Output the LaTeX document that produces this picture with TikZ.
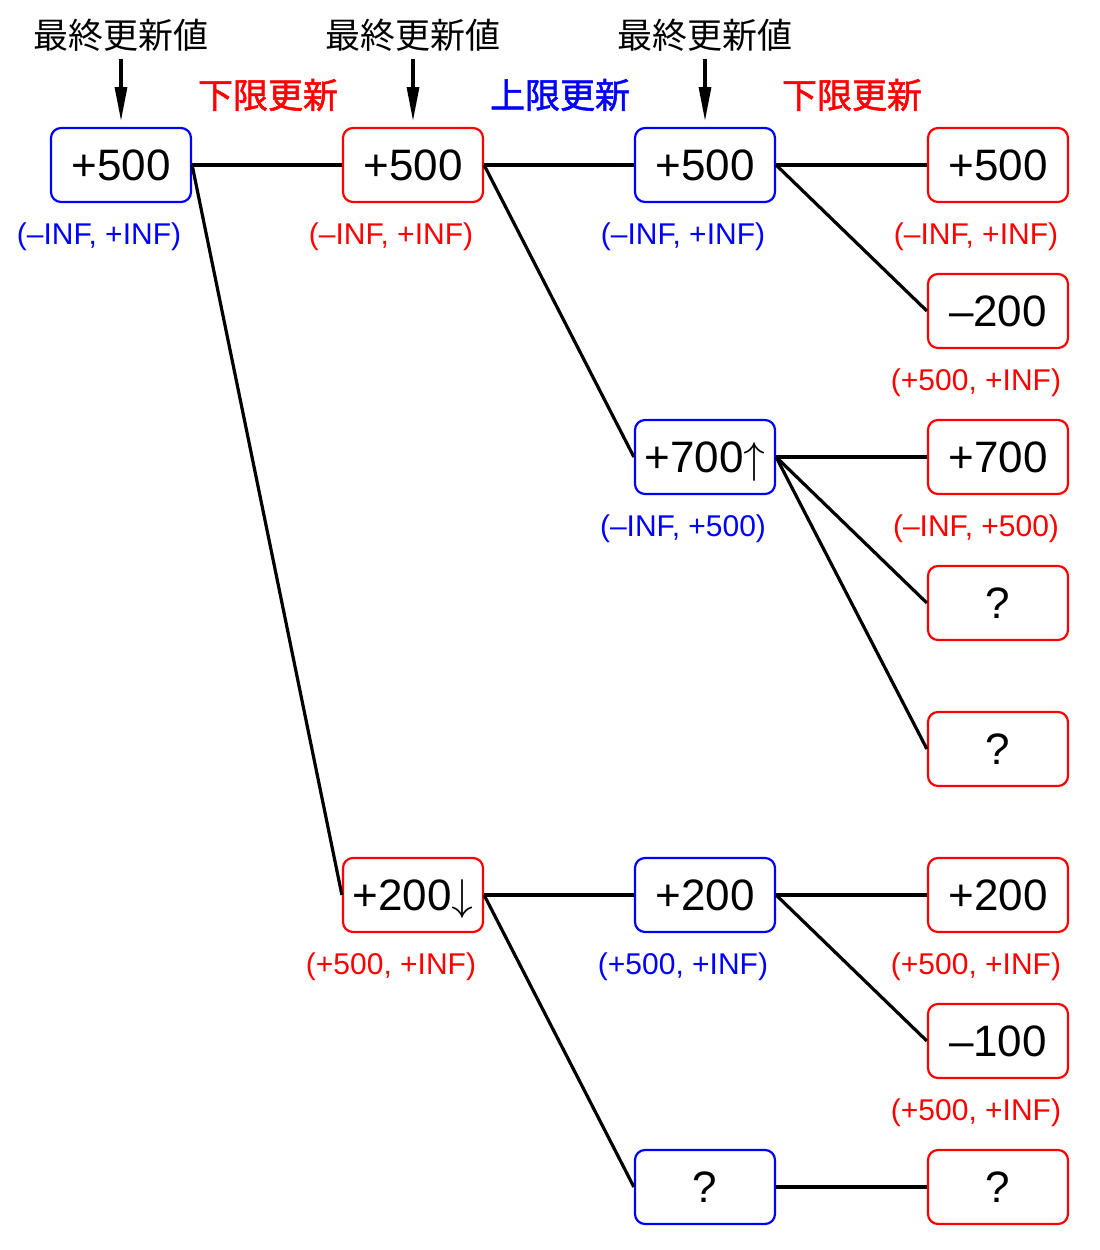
\documentclass[tikz,border=0pt]{standalone}
\usepackage{fontspec}
\setmainfont{Liberation Sans}
\newfontfamily\cjk{Noto Sans CJK JP}
\newfontfamily\cjkb[FakeBold=1.5]{Noto Sans CJK JP}
\newfontfamily\lmm{Latin Modern Math}
\usetikzlibrary{arrows.meta}
\definecolor{rd}{RGB}{255,0,0}
\definecolor{bl}{RGB}{0,0,255}
\tikzset{
  box/.style={draw, rounded corners=10pt, line width=2.2pt, minimum width=140pt, minimum height=74pt, inner sep=0pt, font=\fontsize{44}{44}\selectfont},
  rbox/.style={box, draw=rd},
  bbox/.style={box, draw=bl},
  lab/.style={font=\fontsize{30}{30}\selectfont, inner sep=0pt},
  rlab/.style={lab, text=rd},
  blab/.style={lab, text=bl},
  head/.style={font=\cjk\fontsize{35}{35}\selectfont, inner sep=0pt},
  upd/.style={font=\cjkb\fontsize{35}{35}\selectfont, inner sep=0pt},
  conn/.style={line width=3.2pt},
  harrow/.style={line width=3.2pt, -{Triangle[length=34pt,width=12pt]}}
}
\begin{document}
\begin{tikzpicture}[x=1pt,y=-1pt]
\useasboundingbox (0,0) rectangle (1100,1250);
% boxes
\node[bbox] (a1) at (121,165) {+500};
\node[rbox] (b1) at (413,165) {+500};
\node[rbox] (b6) at (413,895) {+200\smash{\lmm ↓}};
\node[bbox] (c1) at (705,165) {+500};
\node[bbox] (c3) at (705,457) {+700\smash{\lmm ↑}};
\node[bbox] (c6) at (705,895) {+200};
\node[bbox] (c8) at (705,1187) {?};
\node[rbox] (d1) at (998,165) {+500};
\node[rbox] (d2) at (998,311) {–200};
\node[rbox] (d3) at (998,457) {+700};
\node[rbox] (d4) at (998,603) {?};
\node[rbox] (d5) at (998,749) {?};
\node[rbox] (d6) at (998,895) {+200};
\node[rbox] (d7) at (998,1041) {–100};
\node[rbox] (d8) at (998,1187) {?};
% labels
\node[blab] (la1) at (99,237) {(–INF, +INF)};
\node[rlab] (lb1) at (391,237) {(–INF, +INF)};
\node[rlab] (lb6) at (391,967) {(+500, +INF)};
\node[blab] (lc1) at (683,237) {(–INF, +INF)};
\node[blab] (lc3) at (683,529) {(–INF, +500)};
\node[blab] (lc6) at (683,967) {(+500, +INF)};
\node[rlab] (ld1) at (976,237) {(–INF, +INF)};
\node[rlab] (ld2) at (976,383) {(+500, +INF)};
\node[rlab] (ld3) at (976,529) {(–INF, +500)};
\node[rlab] (ld6) at (976,967) {(+500, +INF)};
\node[rlab] (ld7) at (976,1113) {(+500, +INF)};
% headers
\node[head] (h1) at (121,35) {最終更新値};
\node[head] (h2) at (413,35) {最終更新値};
\node[head] (h3) at (705,35) {最終更新値};
\coordinate (t1) at (121,121);
\coordinate (t2) at (413,121);
\coordinate (t3) at (705,121);
\draw[harrow] ([yshift=-8pt]h1.south) -- (t1);
\draw[harrow] ([yshift=-8pt]h2.south) -- (t2);
\draw[harrow] ([yshift=-8pt]h3.south) -- (t3);
\node[upd, text=rd] (u1) at (268,95) {下限更新};
\node[upd, text=bl] (u2) at (560,95) {上限更新};
\node[upd, text=rd] (u3) at (852,95) {下限更新};
% connectors
\draw[conn] (a1.east) -- (b1.west);
\draw[conn] (a1.east) -- (b6.west);
\draw[conn] (b1.east) -- (c1.west);
\draw[conn] (b1.east) -- (c3.west);
\draw[conn] (c1.east) -- (d1.west);
\draw[conn] (c1.east) -- (d2.west);
\draw[conn] (c3.east) -- (d3.west);
\draw[conn] (c3.east) -- (d4.west);
\draw[conn] (c3.east) -- (d5.west);
\draw[conn] (b6.east) -- (c6.west);
\draw[conn] (b6.east) -- (c8.west);
\draw[conn] (c6.east) -- (d6.west);
\draw[conn] (c6.east) -- (d7.west);
\draw[conn] (c8.east) -- (d8.west);
\end{tikzpicture}
\end{document}
